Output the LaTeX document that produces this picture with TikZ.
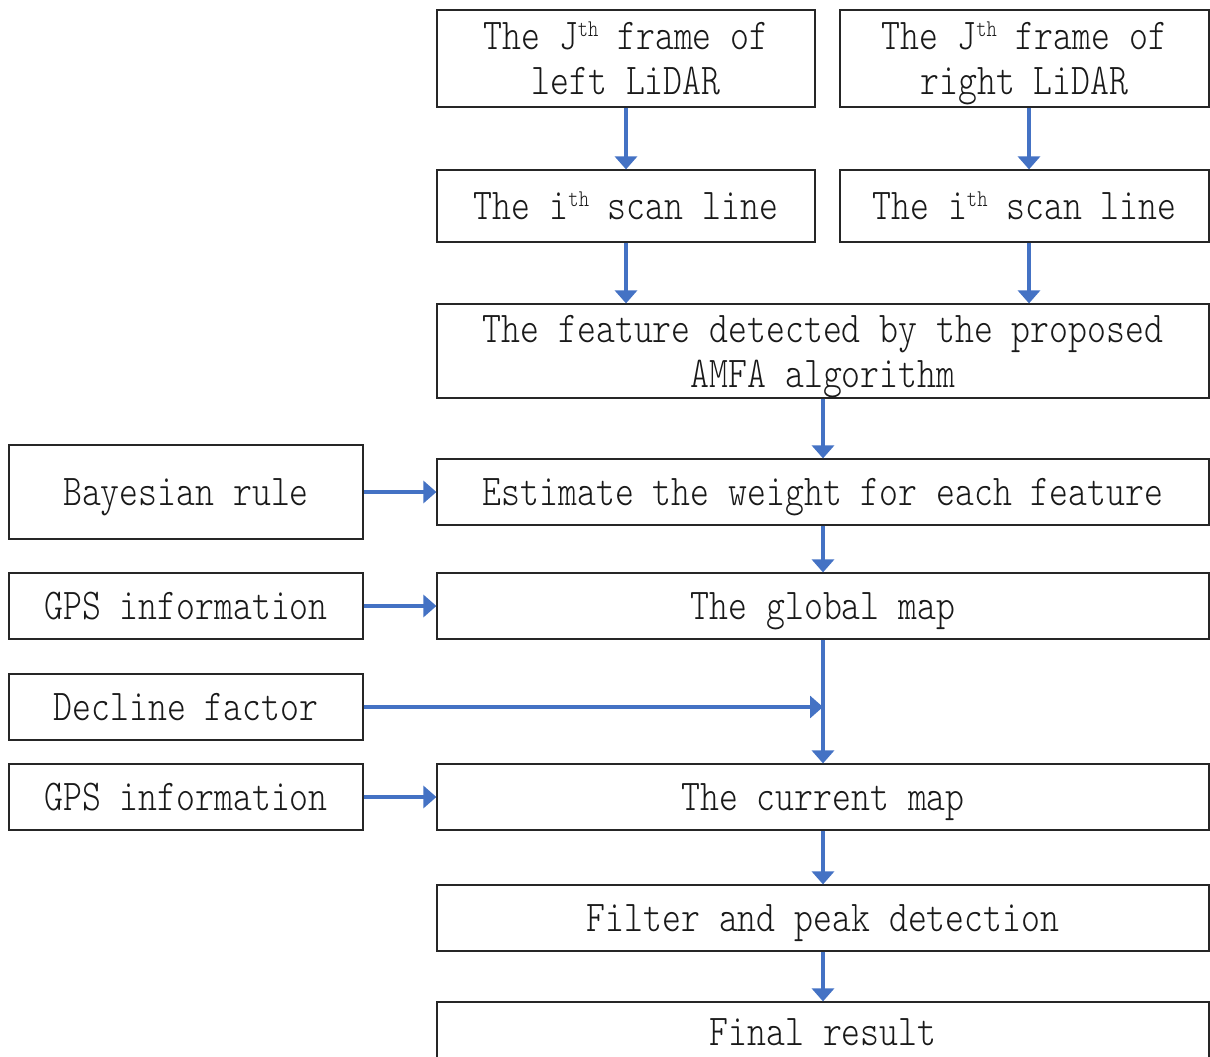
\documentclass[tikz,border=0pt]{standalone}
\usepackage{fontspec}
\usetikzlibrary{arrows.meta}
\newfontfamily\lmt[FakeStretch=0.818]{lmmonolt10-regular.otf}
\definecolor{arrblue}{HTML}{4472C4}
\newcommand\supth{\smash{\raisebox{13pt}{\fontsize{24}{24}\selectfont th}}}
\begin{document}
\begin{tikzpicture}[x=1pt,y=-1pt,
  box/.style={draw=black!85, line width=1.2pt, rectangle, inner sep=0pt,
    font=\fontsize{44}{45}\selectfont\lmt, align=center, text=black!90},
  one/.style={box, text height=27pt, text depth=0pt},
  arr/.style={draw=arrblue, line width=3.2pt, -{Triangle[length=13pt,width=22pt]}}]
\useasboundingbox (0,0) rectangle (1210,1057);
\clip (0,0) rectangle (1210,1057);

% top row
\node[box, minimum width=378pt, minimum height=97pt] (fl) at (626,58.5)
  {The J\supth{} frame of\\left LiDAR};
\node[box, minimum width=369pt, minimum height=97pt] (fr) at (1024.5,58.5)
  {The J\supth{} frame of\\\smash{right} LiDAR};
\node[one, minimum width=378pt, minimum height=72pt] (sl) at (626,206)
  {The i\supth{} scan line};
\node[one, minimum width=369pt, minimum height=72pt] (sr) at (1024.5,206)
  {The i\supth{} scan line};

% main column
\node[box, minimum width=772pt, minimum height=94pt] (feat) at (823,351)
  {The feature detected by the proposed\\AMFA \smash{algorithm}};
\node[one, minimum width=772pt, minimum height=66pt] (est) at (823,492)
  {Estimate the weight for each feature};
\node[one, minimum width=772pt, minimum height=66pt] (glob) at (823,606)
  {The global map};
\node[one, minimum width=772pt, minimum height=66pt] (cur) at (823,797)
  {The current map};
\node[one, minimum width=772pt, minimum height=66pt] (filt) at (823,918)
  {Filter and peak detection};
\node[one, minimum width=772pt, minimum height=60pt] (fin) at (823,1032)
  {Final result};

% left column
\node[one, minimum width=354pt, minimum height=94pt] (bay) at (186,492)
  {Bayesian rule};
\node[one, minimum width=354pt, minimum height=66pt] (gps1) at (186,606)
  {GPS information};
\node[one, minimum width=354pt, minimum height=66pt] (dec) at (186,707)
  {Decline factor};
\node[one, minimum width=354pt, minimum height=66pt] (gps2) at (186,797)
  {GPS information};

% connectors
\draw[arr] (fl.south) -- (sl.north);
\draw[arr] ([xshift=4.5pt]fr.south) -- ([xshift=4.5pt]sr.north);
\draw[arr] (sl.south) -- (sl.south |- feat.north);
\draw[arr] ([xshift=4.5pt]sr.south) -- ([xshift=4.5pt]sr.south |- feat.north);
\draw[arr] (feat.south) -- (est.north);
\draw[arr] (est.south) -- (glob.north);
\draw[arr] (glob.south) -- (cur.north);
\draw[arr] (dec.east) -- (dec.east -| glob.south);
\draw[arr] (bay.east) -- (est.west);
\draw[arr] (gps1.east) -- (glob.west);
\draw[arr] (gps2.east) -- (cur.west);
\draw[arr] (cur.south) -- (filt.north);
\draw[arr] (filt.south) -- (fin.north);
\end{tikzpicture}
\end{document}
